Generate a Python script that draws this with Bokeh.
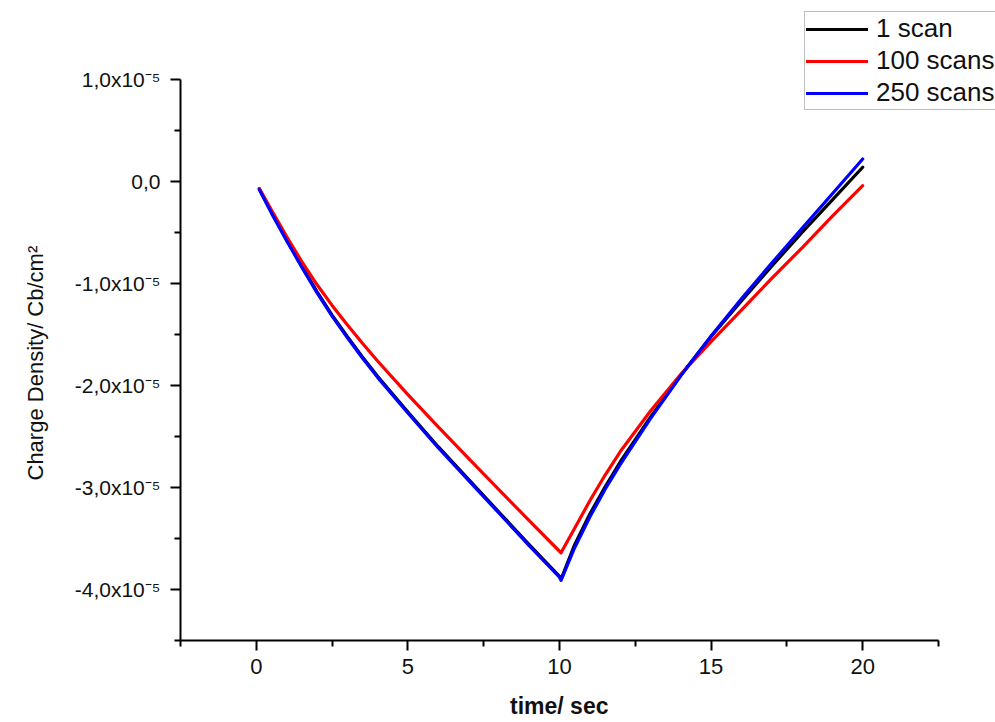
import numpy as np
from bokeh.plotting import figure
from bokeh.models import (Range1d, FixedTicker, CustomJSTickFormatter, Legend,
                          LegendItem, ColumnDataSource, Title)
from bokeh.embed import file_html
from bokeh.resources import INLINE

# ---- data (charge density in units of 1e-6 Cb/cm^2) ----
UNIT = 1e-6
time_s = [0.1, 0.5, 1.0, 1.5, 2.0, 2.5, 3.0, 3.5, 4.0, 5.0, 6.0, 7.0, 8.0, 9.0, 10.0, 10.05,
          10.5, 11.0, 11.5, 12.0, 13.0, 14.0, 15.0, 16.0, 17.0, 18.0, 19.0, 20.0]
scan_1 = [-0.7, -3.0, -5.7, -8.3, -10.8, -13.1, -15.2, -17.2, -19.1, -22.6, -26.0, -29.2, -32.4, -35.6, -38.7, -39.0,
          -35.6, -32.6, -29.95, -27.5, -23.1, -19.0, -15.2, -11.7, -8.3, -5.0, -1.8, 1.4]
scan_100 = [-0.7, -2.8, -5.4, -7.85, -10.1, -12.15, -14.05, -15.85, -17.6, -20.9, -24.05, -27.15, -30.2, -33.25, -36.25, -36.4,
            -34.0, -31.3, -28.8, -26.5, -22.5, -18.9, -15.7, -12.6, -9.5, -6.5, -3.4, -0.4]
scan_250 = [-0.8, -3.1, -5.8, -8.4, -10.9, -13.2, -15.3, -17.3, -19.2, -22.7, -26.1, -29.3, -32.5, -35.7, -38.8, -39.1,
            -35.9, -32.9, -30.2, -27.75, -23.25, -19.05, -15.15, -11.5, -8.0, -4.6, -1.2, 2.2]
series_labels = ["1 scan", "100 scans", "250 scans"]
series_colors = ["#000000", "#ff0000", "#0000ff"]

x_ticks = [0, 5, 10, 15, 20]
x_minor = [-2.5, 2.5, 7.5, 12.5, 17.5, 22.5]
y_ticks = [-4e-5, -3e-5, -2e-5, -1e-5, 0.0, 1e-5]
y_minor = [-4.5e-5, -3.5e-5, -2.5e-5, -1.5e-5, -0.5e-5, 0.5e-5]
x_axis_span = (-2.5, 22.5)
y_axis_span = (-4.5e-5, 1.0e-5)
x_title = "time/ sec"
y_title = "Charge Density/ Cb/cm\u00b2"

# ---- layout (pixels) ----
W, H = 995, 722
AX_L, AX_R, AX_T, AX_B = 180, 938, 79, 640   # where the drawn axes end
# frame extends to the top/right edge of the canvas so the legend is not clipped
ppx = (AX_R - AX_L) / (x_axis_span[1] - x_axis_span[0])
ppy = (AX_B - AX_T) / (y_axis_span[1] - y_axis_span[0])
x_end = x_axis_span[1] + (W - AX_R) / ppx
y_end = y_axis_span[1] + AX_T / ppy

p = figure(width=W, height=H, output_backend="svg", toolbar_location=None, title=None,
           x_range=Range1d(x_axis_span[0], x_end), y_range=Range1d(y_axis_span[0], y_end),
           min_border_left=AX_L, min_border_right=0, min_border_top=0, min_border_bottom=H - AX_B)
p.outline_line_color = None
p.xgrid.visible = False
p.ygrid.visible = False
p.background_fill_color = "white"
p.border_fill_color = "white"

renderers = []
for vals, col in zip([scan_1, scan_100, scan_250], series_colors):
    src = ColumnDataSource(dict(t=time_s, q=np.array(vals) * UNIT))
    r = p.line("t", "q", source=src, line_color=col, line_width=3.2, line_join="round", line_cap="round")
    renderers.append(r)

# axes
for ax in (p.xaxis[0], p.yaxis[0]):
    ax.axis_line_width = 2
    ax.major_tick_line_width = 2
    ax.minor_tick_line_width = 2
    ax.major_tick_out = 10
    ax.major_tick_in = 0
    ax.minor_tick_out = 6
    ax.minor_tick_in = 0
    ax.major_label_text_color = "#111111"
    ax.axis_label_text_color = "#111111"

p.xaxis.bounds = x_axis_span
p.yaxis.bounds = y_axis_span
p.xaxis.ticker = FixedTicker(ticks=x_ticks, minor_ticks=x_minor)
p.yaxis.ticker = FixedTicker(ticks=y_ticks, minor_ticks=y_minor)
p.yaxis.formatter = CustomJSTickFormatter(code="""
if (Math.abs(tick) < 1e-12) { return "0,0"; }
const m = tick / 1e-5;
return m.toFixed(1).replace(".", ",") + "x10\u207B\u2075";
""")

p.xaxis.major_label_text_font = "Liberation Sans"
p.xaxis.major_label_text_font_size = "22px"
p.xaxis.major_label_standoff = 8
p.yaxis.major_label_text_font = "Liberation Sans"
p.yaxis.major_label_text_font_size = "21px"
p.yaxis.major_label_standoff = 10

# x title: axis label, padded with no-break spaces so it centres under the drawn axis
p.xaxis.axis_label = x_title + "\u00a0" * 9
p.xaxis.axis_label_text_font = "Liberation Sans"
p.xaxis.axis_label_text_font_style = "bold"
p.xaxis.axis_label_text_font_size = "23px"
p.xaxis.axis_label_standoff = 16

# y title: side-panel title so it can be centred on the drawn axis
yt = Title(text=y_title, align="left", offset=160, standoff=44, vertical_align="top",
           text_font="Liberation Sans", text_font_style="normal", text_font_size="22px",
           text_color="#111111")
p.add_layout(yt, "left")

legend = Legend(items=[LegendItem(label=lab, renderers=[r]) for lab, r in zip(series_labels, renderers)],
                location=(804 - AX_L, AX_B - 110), orientation="vertical",
                label_text_font="Liberation Sans", label_text_font_size="26px",
                label_text_color="#111111",
                glyph_width=62, glyph_height=28, label_standoff=8, label_height=28,
                spacing=1, padding=1, margin=0,
                border_line_color="#808080", border_line_width=1,
                background_fill_color="white", background_fill_alpha=1.0)
p.add_layout(legend)

open("out.html", "w").write(file_html(p, INLINE))
